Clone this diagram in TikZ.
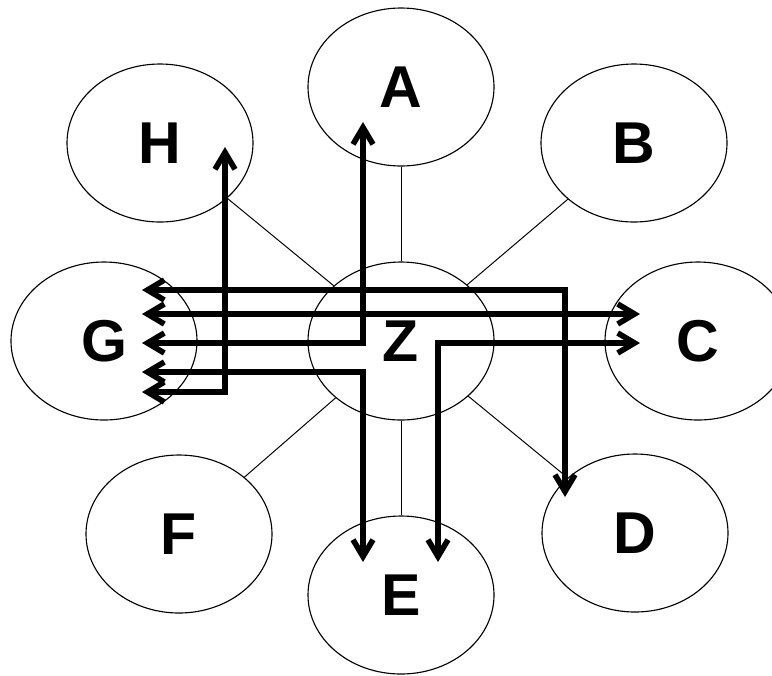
\documentclass[tikz,border=0pt]{standalone}
\usepackage{fontspec}
\setmainfont{Liberation Sans}
\usepackage{tikz}
\usetikzlibrary{shapes.geometric, arrows.meta}

\tikzset{
	bubble/.style={draw, ellipse, line width=0.8pt, minimum width=46.5mm, minimum height=39.5mm, inner sep=0pt, font=\fontsize{42}{48}\selectfont\bfseries},
	spoke/.style={line width=0.7pt},
	link/.style={line width=4pt, >={Straight Barb[length=4.2mm, width=5mm]}, <->}
}

\begin{document}
\begin{tikzpicture}[x=0.25mm, y=-0.25mm]
		\useasboundingbox (0, 0) rectangle (772, 675);
		% Outer ring
		\node[bubble] (A) at (401, 87) {A};
		\node[bubble] (B) at (634, 143) {B};
		\node[bubble] (C) at (698, 341) {C};
		\node[bubble] (D) at (635, 533) {D};
		\node[bubble] (E) at (401, 595) {E};
		\node[bubble] (F) at (179, 534) {F};
		\node[bubble] (G) at (104, 341) {G};
		\node[bubble] (H) at (160, 143) {H};
		%
		\node[bubble] (Z) at (401, 341) {Z}; % Hub
		% Arrow ends
		\coordinate (gd) at (142, 290); \coordinate (dg) at (565, 497);
		\coordinate (gc) at (142, 314); \coordinate (cg) at (640, 314);
		\coordinate (ga) at (142, 343); \coordinate (ag) at (363, 122);
		\coordinate (ge) at (142, 372); \coordinate (eg) at (363, 562);
		\coordinate (gh) at (142, 392); \coordinate (hg) at (225, 147);
		\coordinate (ce) at (640, 343); \coordinate (ec) at (438, 562);
		% Drawing the edges
		%% Spokes
		\draw[spoke] (Z) to (A); \draw[spoke] (Z) to (B); \draw[spoke] (Z) to (C);
		\draw[spoke] (Z) to (D); \draw[spoke] (Z) to (E); \draw[spoke] (Z) to (F);
		\draw[spoke] (Z) to (G); \draw[spoke] (Z) to (H);
		%% Thick arrows
		\draw[link] (gd) -| (dg);
		\draw[link] (gc) -- (cg);
		\draw[link] (ga) -| (ag);
		\draw[link] (ge) -| (eg);
		\draw[link] (gh) -| (hg);
		\draw[link] (ce) -| (ec);
	\end{tikzpicture}
\end{document}
